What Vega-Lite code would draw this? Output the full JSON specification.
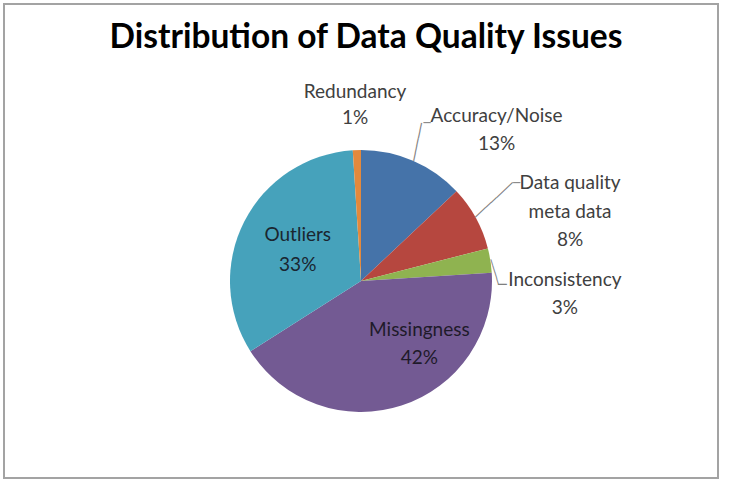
{
  "$schema": "https://vega.github.io/schema/vega-lite/v6.json",
  "autosize": "none",
  "width": 714,
  "height": 474,
  "padding": {"left": 4, "top": 4, "right": 12, "bottom": 7},
  "background": "white",
  "config": {
    "view": {"stroke": null},
    "text": {"font": "Lato, sans-serif"}
  },
  "title": {
    "text": "Distribution of Data Quality Issues",
    "font": "Lato, sans-serif",
    "fontSize": 33.5,
    "fontWeight": "bold",
    "color": "#000000",
    "anchor": "middle",
    "frame": "group",
    "orient": "top",
    "baseline": "alphabetic",
    "offset": -44,
    "dx": 5,
    "dy": 34
  },
  "data": {
    "values": [
      {"cat": "Accuracy/Noise", "value": 13, "order": 1, "label": "Accuracy/Noise\n13%"},
      {"cat": "Data quality meta data", "value": 8, "order": 2, "label": "Data quality\nmeta data\n8%"},
      {"cat": "Inconsistency", "value": 3, "order": 3, "label": "Inconsistency\n3%"},
      {"cat": "Missingness", "value": 42, "order": 4, "label": "Missingness\n42%"},
      {"cat": "Outliers", "value": 33, "order": 5, "label": "Outliers\n33%"},
      {"cat": "Redundancy", "value": 1, "order": 6, "label": "Redundancy\n1%"}
    ]
  },
  "encoding": {
    "theta": {"field": "value", "type": "quantitative", "stack": true},
    "order": {"field": "order", "type": "quantitative", "sort": "ascending"}
  },
  "layer": [
    {
      "data": {"values": [{"frame": "border"}]},
      "mark": {"type": "rect", "fill": null, "stroke": "#a3a3a3", "strokeWidth": 2},
      "encoding": {
        "theta": null,
        "order": null,
        "x": {"value": 0},
        "x2": {"value": "width"},
        "y": {"value": 0},
        "y2": {"value": "height"}
      }
    },
    {
      "mark": {"type": "arc", "radius": 131, "y": {"expr": "height/2 + 40"}, "x": {"expr": "width/2"}},
      "encoding": {
        "color": {
          "field": "cat",
          "type": "nominal",
          "legend": null,
          "scale": {
            "domain": ["Accuracy/Noise", "Data quality meta data", "Inconsistency", "Missingness", "Outliers", "Redundancy"],
            "range": ["#4573a9", "#b6473f", "#8fb350", "#735a93", "#46a2bb", "#e3893c"]
          }
        }
      }
    },
    {
      "mark": {"type": "text", "radius": 189, "dx": 0, "dy": 0, "lineBreak": "\n", "fontSize": 19, "lineHeight": 26, "align": "center", "baseline": "middle", "color": "#404040", "y": {"expr": "height/2 + 40"}, "x": {"expr": "width/2"}},
      "encoding": {"text": {"condition": {"test": "datum.cat === 'Redundancy'", "field": "label"}, "value": ""}}
    },
    {
      "mark": {"type": "text", "radius": 165, "dx": 70, "dy": -14, "lineBreak": "\n", "fontSize": 19, "lineHeight": 28, "align": "center", "baseline": "middle", "color": "#404040", "y": {"expr": "height/2 + 40"}, "x": {"expr": "width/2"}},
      "encoding": {"text": {"condition": {"test": "datum.cat === 'Accuracy/Noise'", "field": "label"}, "value": ""}}
    },
    {
      "mark": {"type": "text", "radius": 145, "dx": 82, "dy": -28, "lineBreak": "\n", "fontSize": 19, "lineHeight": 28.5, "align": "center", "baseline": "middle", "color": "#404040", "y": {"expr": "height/2 + 40"}, "x": {"expr": "width/2"}},
      "encoding": {"text": {"condition": {"test": "datum.cat === 'Data quality meta data'", "field": "label"}, "value": ""}}
    },
    {
      "mark": {"type": "text", "radius": 170, "dx": 36, "dy": 25.5, "lineBreak": "\n", "fontSize": 19, "lineHeight": 28, "align": "center", "baseline": "middle", "color": "#404040", "y": {"expr": "height/2 + 40"}, "x": {"expr": "width/2"}},
      "encoding": {"text": {"condition": {"test": "datum.cat === 'Inconsistency'", "field": "label"}, "value": ""}}
    },
    {
      "mark": {"type": "text", "radius": 71, "dx": 0, "dy": -14, "lineBreak": "\n", "fontSize": 19, "lineHeight": 30, "align": "center", "baseline": "middle", "color": "#1a2630", "y": {"expr": "height/2 + 40"}, "x": {"expr": "width/2"}},
      "encoding": {"text": {"condition": {"test": "datum.cat === 'Outliers'", "field": "label"}, "value": ""}}
    },
    {
      "mark": {"type": "text", "radius": 66, "dx": 38, "dy": -14, "lineBreak": "\n", "fontSize": 19, "lineHeight": 28, "align": "center", "baseline": "middle", "color": "#1f1a2a", "y": {"expr": "height/2 + 40"}, "x": {"expr": "width/2"}},
      "encoding": {"text": {"condition": {"test": "datum.cat === 'Missingness'", "field": "label"}, "value": ""}}
    },
    {
      "mark": {"type": "text", "radius": 0, "angle": -78, "fontSize": 12.9, "align": "center", "baseline": "middle", "color": "#7f7f7f", "font": "DejaVu Sans", "y": {"expr": "height/2 + 40 - 139"}, "x": {"expr": "width/2 + 57"}},
      "encoding": {"text": {"condition": {"test": "datum.cat === 'Accuracy/Noise'", "value": "─────"}, "value": ""}}
    },
    {
      "mark": {"type": "text", "radius": 0, "angle": 0, "fontSize": 12, "align": "center", "baseline": "middle", "color": "#7f7f7f", "font": "DejaVu Sans", "y": {"expr": "height/2 + 40 - 158"}, "x": {"expr": "width/2 + 66"}},
      "encoding": {"text": {"condition": {"test": "datum.cat === 'Accuracy/Noise'", "value": "─"}, "value": ""}}
    },
    {
      "mark": {"type": "text", "radius": 0, "angle": -42.7, "fontSize": 12.1, "align": "center", "baseline": "middle", "color": "#7f7f7f", "font": "DejaVu Sans", "y": {"expr": "height/2 + 40 - 81"}, "x": {"expr": "width/2 + 133"}},
      "encoding": {"text": {"condition": {"test": "datum.cat === 'Data quality meta data'", "value": "───────"}, "value": ""}}
    },
    {
      "mark": {"type": "text", "radius": 0, "angle": 0, "fontSize": 12, "align": "center", "baseline": "middle", "color": "#7f7f7f", "font": "DejaVu Sans", "y": {"expr": "height/2 + 40 - 98"}, "x": {"expr": "width/2 + 155.5"}},
      "encoding": {"text": {"condition": {"test": "datum.cat === 'Data quality meta data'", "value": "─"}, "value": ""}}
    },
    {
      "mark": {"type": "text", "radius": 0, "angle": 73, "fontSize": 11, "align": "center", "baseline": "middle", "color": "#7f7f7f", "font": "DejaVu Sans", "y": {"expr": "height/2 + 40 - 8.6"}, "x": {"expr": "width/2 + 133"}},
      "encoding": {"text": {"condition": {"test": "datum.cat === 'Inconsistency'", "value": "────"}, "value": ""}}
    },
    {
      "mark": {"type": "text", "radius": 0, "angle": 0, "fontSize": 14, "align": "center", "baseline": "middle", "color": "#7f7f7f", "font": "DejaVu Sans", "y": {"expr": "height/2 + 40 + 4"}, "x": {"expr": "width/2 + 141.5"}},
      "encoding": {"text": {"condition": {"test": "datum.cat === 'Inconsistency'", "value": "─"}, "value": ""}}
    }
  ]
}
